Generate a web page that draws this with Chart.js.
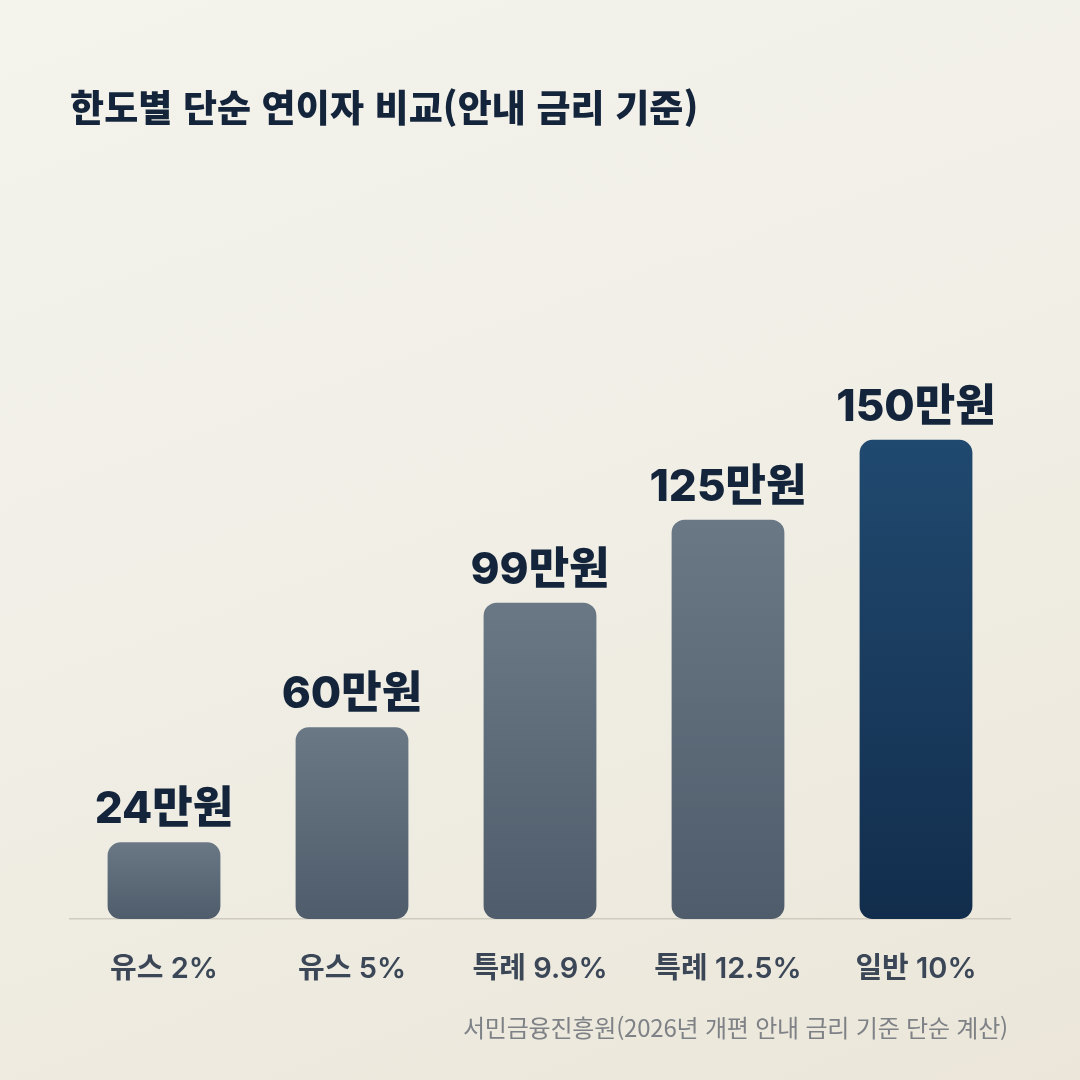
<!DOCTYPE html>
<html lang="ko">
<head>
<meta charset="utf-8">
<script src="https://cdn.jsdelivr.net/npm/chart.js@4/dist/chart.umd.min.js"></script>
<style>
  html, body { margin: 0; padding: 0; }
  body {
    width: 1080px; height: 1080px; overflow: hidden; position: relative;
    background: linear-gradient(160deg, #f4f3ec 0%, #f0eee5 50%, #ebe6d9 100%);
    font-family: Inter, "Noto Sans CJK KR", sans-serif;
  }
  #title {
    position: absolute; left: 70px; top: 84px; margin: 0; white-space: nowrap;
    font-family: "Noto Sans CJK KR", sans-serif; font-weight: 800; font-size: 37px;
    color: #14253b; letter-spacing: 0.1px; line-height: 1.2;
  }
  #source {
    position: absolute; right: 72px; top: 1013px; margin: 0; white-space: nowrap;
    font-family: "Noto Sans CJK KR", sans-serif; font-weight: 400; font-size: 24px;
    color: #7e8186; letter-spacing: -0.2px; line-height: 1.2;
  }
  #wrap { position: absolute; left: 0; top: 0; width: 1080px; height: 1080px; }
</style>
</head>
<body>
<div id="wrap"><canvas id="c" width="1080" height="1080"></canvas></div>
<h1 id="title">한도별 단순 연이자 비교(안내 금리 기준)</h1>
<p id="source">서민금융진흥원(2026년 개편 안내 금리 기준 단순 계산)</p>
<script>
const categories = ["유스 2%", "유스 5%", "특례 9.9%", "특례 12.5%", "일반 10%"];
const interestValues = [24, 60, 99, 125, 150];
const valueLabels = ["24만원", "60만원", "99만원", "125만원", "150만원"];
const highlightIndex = 4;

function barGradient(context) {
  const chart = context.chart;
  const area = chart.chartArea;
  if (!area) return "#5d6b7a";
  const yScale = chart.scales.y;
  const top = yScale.getPixelForValue(context.parsed ? context.parsed.y : 0);
  const bottom = yScale.getPixelForValue(0);
  const g = chart.ctx.createLinearGradient(0, top, 0, bottom);
  if (context.dataIndex === highlightIndex) {
    g.addColorStop(0, "#20496f");
    g.addColorStop(1, "#122d4c");
  } else {
    g.addColorStop(0, "#6a7886");
    g.addColorStop(1, "#4f5c6b");
  }
  return g;
}

const valueLabelPlugin = {
  id: "valueLabels",
  afterDatasetsDraw(chart) {
    const ctx = chart.ctx;
    const meta = chart.getDatasetMeta(0);
    ctx.save();
    ctx.font = "800 44px Inter, 'Noto Sans CJK KR', sans-serif";
    ctx.fillStyle = "#14253b";
    ctx.textAlign = "center";
    ctx.textBaseline = "alphabetic";
    meta.data.forEach((bar, i) => {
      ctx.fillText(valueLabels[i], bar.x, bar.y - 19);
    });
    ctx.restore();
  }
};

new Chart(document.getElementById("c"), {
  type: "bar",
  data: {
    labels: categories,
    datasets: [{
      data: interestValues,
      backgroundColor: barGradient,
      borderRadius: 13,
      borderSkipped: false,
      barPercentage: 0.6,
      categoryPercentage: 1.0
    }]
  },
  options: {
    responsive: false,
    animation: false,
    devicePixelRatio: 1,
    layout: { padding: { left: 70, right: 70, top: 344, bottom: 97 } },
    plugins: { legend: { display: false }, tooltip: { enabled: false }, title: { display: false } },
    scales: {
      x: {
        grid: { display: false, drawTicks: false },
        border: { display: true, color: "#cfccbf", width: 1.5 },
        ticks: {
          padding: 33,
          color: "#3b4757",
          font: { family: "Inter, 'Noto Sans CJK KR', sans-serif", size: 29, weight: 600 }
        },
        afterFit(scale) { scale.height = 64; }
      },
      y: {
        display: false,
        min: 0,
        max: 180
      }
    }
  },
  plugins: [valueLabelPlugin]
});
</script>
</body>
</html>
